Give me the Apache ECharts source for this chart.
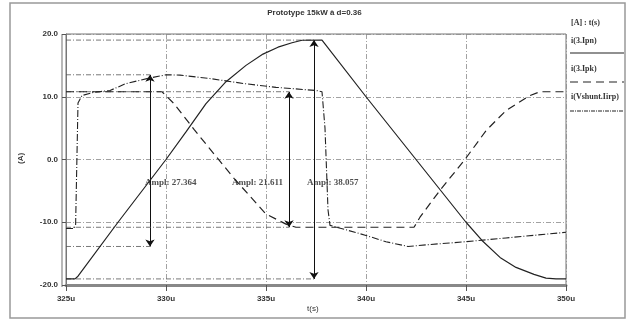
<!DOCTYPE html>
<html><head><meta charset="utf-8">
<script src="https://cdn.jsdelivr.net/npm/echarts@6/dist/echarts.min.js"></script>
<style>html,body{margin:0;padding:0;background:#fff}#c{width:629px;height:322px}</style>
</head><body><div id="c"></div>
<script>
const chartTitle = 'Prototype 15kW à d=0.36';
const xTicks = [325, 330, 335, 340, 345, 350];
const yTicks = [-20, -10, 0, 10, 20];
const seriesNames = ['i(3.Ipn)', 'i(3.Ipk)', 'i(Vshunt.Iirp)'];

// i(3.Ipn) solid
const ipnT = [325, 325.45, 325.6, 327.6, 330, 331, 332, 333, 334, 334.85, 335.6, 336.3, 336.8, 337.8, 340, 342.5, 345, 345.8, 346.7, 347.5, 348.4, 349.0, 349.5, 350];
const ipnV = [-19.03, -19.03, -18.6, -10, 0, 4.4, 8.9, 12.4, 15.0, 16.8, 17.9, 18.6, 19.0, 19.03, 10, 0, -10, -12.9, -15.6, -17.2, -18.3, -18.9, -19.03, -19.03];

// i(3.Ipk) dashed
const ipkT = [325, 329.8, 330.4, 331.4, 332.5, 333.4, 335.0, 336.0, 336.5, 342.4, 342.7, 343.7, 344.9, 346.0, 347.0, 348.2, 348.7, 350];
const ipkV = [10.8, 10.8, 8.9, 4.8, 0.5, -3.0, -8.7, -10.3, -10.8, -10.8, -9.2, -4.9, -0.2, 4.6, 7.8, 10.2, 10.8, 10.8];

// i(Vshunt.Iirp) dash-dot
const ishT = [325, 325.4, 325.48, 325.6, 325.8, 326.4, 327.2, 328.0, 329.2, 330.0, 330.7, 332.2, 333.9, 335.5, 337.5, 337.8, 337.95, 338.1, 338.2, 339, 340, 341, 342.1, 343, 344, 345, 346, 347, 348, 349, 350];
const ishV = [-11.0, -11.0, -10.5, 9.0, 10.2, 10.7, 11.0, 12.1, 13.0, 13.5, 13.45, 12.9, 12.1, 11.5, 11.0, 10.8, 5, -8, -10.5, -11.2, -12.1, -13.1, -13.86, -13.6, -13.35, -13.1, -12.8, -12.5, -12.2, -11.9, -11.6];

// cursor measurements
const ampX = [329.2, 336.15, 337.4];
const ampTop = [13.5, 10.8, 19.03];
const ampBot = [-13.86, -10.8, -19.03];
const ampText = ['Ampl: 27.364', 'Ampl: 21.611', 'Ampl: 38.057'];
const ampLabelX = [328.95, 333.3, 337.05];
const ampLabelY = [-3.7, -3.7, -3.7];

const pairs = (t, v) => t.map((x, i) => [x, v[i]]);

const G = {left: 66, right: 63, top: 34, bottom: 37};
const ink = '#222';
const gridGray = '#8a8a8a';
const tickFont = {fontFamily: 'Liberation Sans', fontWeight: 'bold', fontSize: 8, color: '#333'};

const cursorSeries = [];
ampX.forEach((x, i) => {
  [ampTop[i], ampBot[i]].forEach(v => {
    cursorSeries.push({
      type: 'line', silent: true, symbol: 'none', animation: false,
      data: [[xTicks[0], v], [x, v]],
      lineStyle: {color: '#555', width: 0.8, type: [5, 2, 1, 2]}
    });
  });
});

const chart = echarts.init(document.getElementById('c'));
chart.setOption({
  backgroundColor: '#fff',
  animation: false,
  grid: {left: G.left, right: G.right, top: G.top, bottom: G.bottom, show: true, borderColor: '#777', borderWidth: 1},
  xAxis: {
    type: 'value', min: xTicks[0], max: xTicks[xTicks.length - 1], interval: 5,
    axisLine: {show: true, onZero: false, lineStyle: {color: '#888', width: 3}},
    axisTick: {show: true, length: 6, lineStyle: {color: '#555'}},
    axisLabel: {...tickFont, margin: 10, formatter: v => v + 'u'},
    splitLine: {show: true, lineStyle: {color: gridGray, width: 0.8, type: [5, 2, 1, 2]}}
  },
  yAxis: {
    type: 'value', min: yTicks[0], max: yTicks[yTicks.length - 1], interval: 10,
    axisLine: {show: true, onZero: false, lineStyle: {color: '#777', width: 1}},
    axisTick: {show: true, length: 4, lineStyle: {color: '#555'}},
    axisLabel: {...tickFont, margin: 8, formatter: v => v.toFixed(1)},
    splitLine: {show: true, lineStyle: {color: gridGray, width: 0.8, type: [5, 2, 1, 2]}}
  },
  series: [
    ...cursorSeries,
    {name: seriesNames[0], type: 'line', symbol: 'none', data: pairs(ipnT, ipnV),
     lineStyle: {color: ink, width: 1.2}},
    {name: seriesNames[1], type: 'line', symbol: 'none', data: pairs(ipkT, ipkV),
     lineStyle: {color: ink, width: 1.2, type: [8, 5]}},
    {name: seriesNames[2], type: 'line', symbol: 'none', data: pairs(ishT, ishV),
     lineStyle: {color: ink, width: 1.1, type: [7, 2, 1, 2]}},
    {type: 'lines', coordinateSystem: 'cartesian2d', silent: true,
     symbol: ['arrow', 'arrow'], symbolSize: 7,
     lineStyle: {color: '#111', width: 1, opacity: 1},
     data: ampX.map((x, i) => ({coords: [[x, ampTop[i]], [x, ampBot[i]]]}))},
    {type: 'scatter', silent: true, symbolSize: 0,
     data: ampLabelX.map((x, i) => ({value: [x, ampLabelY[i]], name: ampText[i]})),
     label: {show: true, position: 'right', distance: 0, formatter: p => p.name,
             fontFamily: 'Liberation Serif', fontWeight: 'bold', fontSize: 9, color: '#222'}}
  ],
  graphic: [
    {type: 'rect', shape: {x: 10, y: 3, width: 615, height: 315}, style: {fill: 'none', stroke: '#999', lineWidth: 1.5}, z: -1},
    {type: 'line', shape: {x1: 62, y1: 34, x2: 62, y2: 287}, style: {stroke: '#888', lineWidth: 1.2}},
    {type: 'text', left: 'center', top: 9, style: {text: chartTitle, fontFamily: 'Liberation Sans', fontWeight: 'bold', fontSize: 8, fill: '#333'}},
    {type: 'text', x: 17, y: 164, rotation: Math.PI / 2, style: {text: '(A)', fontFamily: 'Liberation Sans', fontWeight: 'bold', fontSize: 8, fill: '#333'}},
    {type: 'text', x: 307, y: 305, style: {text: 't(s)', fontFamily: 'Liberation Sans', fontSize: 8, fill: '#333'}},
    {type: 'text', x: 571, y: 19, style: {text: '[A] : t(s)', fontFamily: 'Liberation Serif', fontWeight: 'bold', fontSize: 8, fill: '#333'}},
    {type: 'text', x: 571, y: 37, style: {text: seriesNames[0], fontFamily: 'Liberation Serif', fontWeight: 'bold', fontSize: 8, fill: '#333'}},
    {type: 'line', shape: {x1: 570, y1: 53, x2: 624, y2: 53}, style: {stroke: ink, lineWidth: 1.2}},
    {type: 'text', x: 571, y: 65, style: {text: seriesNames[1], fontFamily: 'Liberation Serif', fontWeight: 'bold', fontSize: 8, fill: '#333'}},
    {type: 'line', shape: {x1: 570, y1: 82, x2: 624, y2: 82}, style: {stroke: ink, lineWidth: 1.2, lineDash: [8, 5]}},
    {type: 'text', x: 571, y: 93, style: {text: seriesNames[2], fontFamily: 'Liberation Serif', fontWeight: 'bold', fontSize: 8, fill: '#333'}},
    {type: 'line', shape: {x1: 570, y1: 111, x2: 624, y2: 111}, style: {stroke: ink, lineWidth: 1, lineDash: [4, 1, 1, 1]}}
  ]
});
</script>
</body></html>
